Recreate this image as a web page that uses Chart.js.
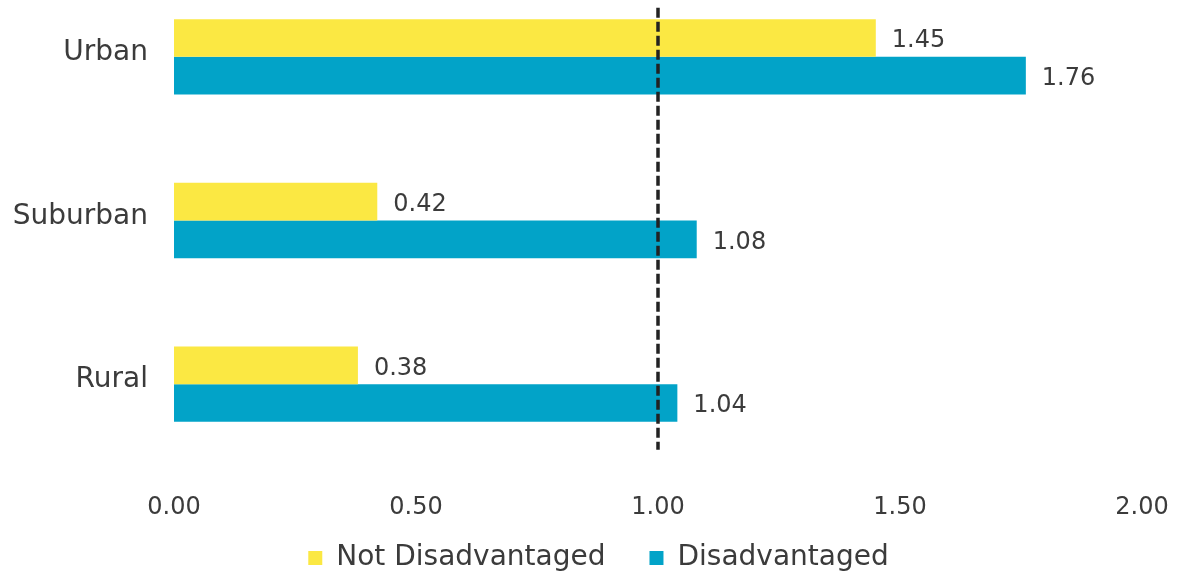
<!DOCTYPE html>
<html>
<head>
<meta charset="utf-8">
<script src="https://cdn.jsdelivr.net/npm/chart.js@4"></script>
<style>
  html, body { margin: 0; padding: 0; background: #ffffff; overflow: hidden; }
  #wrap { width: 1177px; height: 576px; overflow: hidden; position: relative; }
  #c { position: absolute; left: 0; top: -25px; }
</style>
</head>
<body>
<div id="wrap"><canvas id="c" width="1177" height="601"></canvas></div>
<script>
const categories = ["Urban", "Suburban", "Rural"];
const notDisadvantaged = [1.45, 0.42, 0.38];
const disadvantaged = [1.76, 1.08, 1.04];
const seriesNames = ["Not Disadvantaged", "Disadvantaged"];
const xTicks = [0, 0.5, 1.0, 1.5, 2.0];
const referenceValue = 1.0;

const TEXT = "#3b3b3b";
const FONT = "'DejaVu Sans', sans-serif";

const valueLabels = {
  id: "valueLabels",
  afterDatasetsDraw(chart) {
    const ctx = chart.ctx;
    ctx.save();
    ctx.fillStyle = TEXT;
    ctx.font = "24px " + FONT;
    ctx.textAlign = "left";
    ctx.textBaseline = "middle";
    chart.data.datasets.forEach((ds, di) => {
      chart.getDatasetMeta(di).data.forEach((bar, i) => {
        ctx.fillText(ds.data[i].toFixed(2), bar.x + 16, bar.y + 3);
      });
    });
    ctx.restore();
  }
};

const refLine = {
  id: "refLine",
  afterDatasetsDraw(chart) {
    const x = chart.scales.x.getPixelForValue(referenceValue);
    const y0 = chart.scales.y.getPixelForValue(-0.3);
    const y1 = chart.scales.y.getPixelForValue(2.4);
    const ctx = chart.ctx;
    ctx.save();
    ctx.strokeStyle = "#222222";
    ctx.lineWidth = 3.5;
    ctx.setLineDash([10, 4]);
    ctx.beginPath();
    ctx.moveTo(x, y0);
    ctx.lineTo(x, y1);
    ctx.stroke();
    ctx.restore();
  }
};

const legendHeight = {
  id: "legendHeight",
  beforeInit(chart) {
    const orig = chart.legend.fit;
    chart.legend.fit = function () {
      orig.call(this);
      this.height = 76;
    };
  }
};

new Chart(document.getElementById("c"), {
  type: "bar",
  data: {
    labels: categories,
    datasets: [
      { label: seriesNames[0], data: notDisadvantaged, backgroundColor: "#FBE843" },
      { label: seriesNames[1], data: disadvantaged, backgroundColor: "#02A3C8" }
    ]
  },
  options: {
    indexAxis: "y",
    responsive: false,
    animation: false,
    layout: { padding: { top: 0, right: 0, left: 20, bottom: 0 } },
    datasets: { bar: { categoryPercentage: 0.46, barPercentage: 1.0 } },
    scales: {
      x: {
        min: 0, max: 2,
        afterBuildTicks(scale) { scale.ticks = xTicks.map(v => ({ value: v })); },
        afterFit(scale) {
          scale.height = 34;
          scale.paddingLeft = 0; scale.paddingRight = 35;
          scale._computeLabelArea = function () { return undefined; };
        },
        grid: { display: false, drawTicks: false },
        border: { display: false },
        ticks: {
          color: TEXT, font: { family: FONT, size: 24 }, padding: 27,
          callback: v => Number(v).toFixed(2)
        }
      },
      y: {
        afterFit(scale) {
          scale.width = 154;
          scale.paddingTop = 0; scale.paddingBottom = 0;
          scale._computeLabelArea = function () { return undefined; };
        },
        grid: { display: false, drawTicks: false },
        border: { display: false },
        ticks: { color: TEXT, font: { family: FONT, size: 28 }, padding: 26, labelOffset: -4 }
      }
    },
    plugins: {
      legend: {
        position: "bottom",
        labels: {
          color: TEXT,
          font: { family: FONT, size: 28 },
          boxWidth: 14, boxHeight: 14,
          padding: 44
        }
      },
      tooltip: { enabled: false }
    }
  },
  plugins: [valueLabels, refLine, legendHeight]
});
</script>
</body>
</html>
